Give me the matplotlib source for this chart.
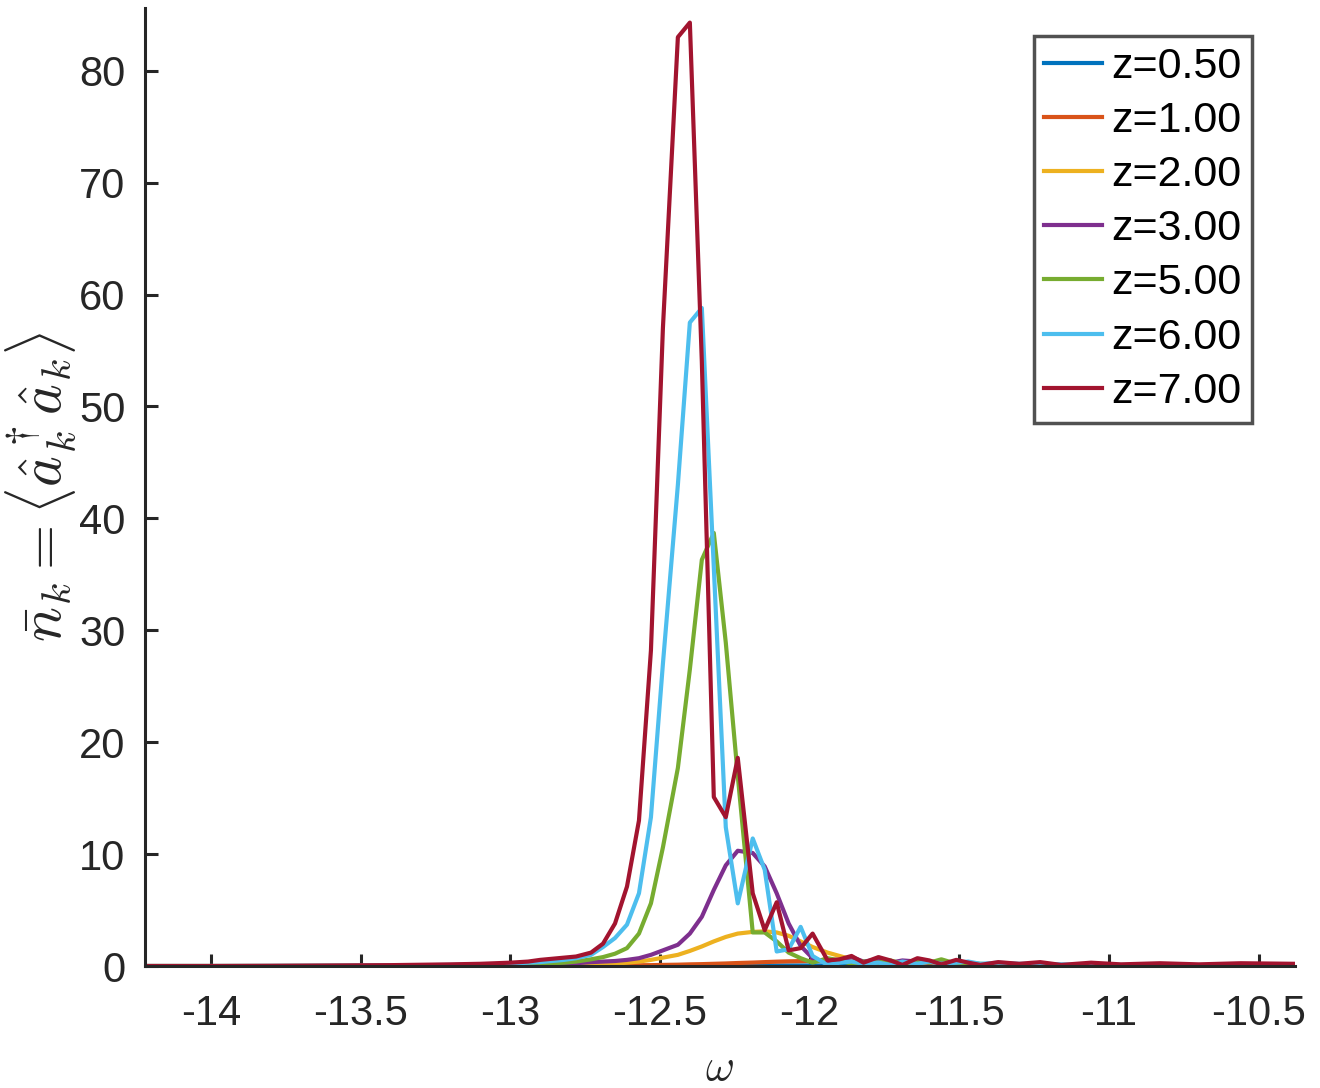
import matplotlib
matplotlib.use("Agg")
import matplotlib.pyplot as plt

# -------------------------------
# DATA
# -------------------------------

omega = [-14.22, -14.0, -13.8, -13.6, -13.4, -13.2, -13.1, -13.0, -12.94,
         -12.90, -12.86, -12.82, -12.78, -12.73, -12.69, -12.65, -12.61, -12.57,
         -12.53, -12.49, -12.44, -12.40, -12.36, -12.32, -12.28, -12.24, -12.19,
         -12.15, -12.11, -12.07, -12.03, -11.99, -11.94, -11.90, -11.86, -11.82,
         -11.77, -11.73, -11.69, -11.64, -11.60, -11.56, -11.51, -11.47, -11.43,
         -11.37, -11.30, -11.23, -11.16, -11.06, -10.96, -10.83, -10.70, -10.56,
         -10.38]

n_z050 = [0, 0, 0, 0, 0, 0, 0, 0, 0,
          0, 0, 0, 0, 0, 0, 0, 0.01, 0.01,
          0.01, 0.01, 0.02, 0.02, 0.02, 0.03, 0.03, 0.03, 0.04,
          0.04, 0.05, 0.05, 0.05, 0.05, 0.05, 0.05, 0.04, 0.04,
          0.04, 0.03, 0.03, 0.03, 0.02, 0.02, 0.02, 0.02, 0.01,
          0.01, 0.01, 0.01, 0.01, 0, 0, 0, 0, 0,
          0]

n_z100 = [0, 0, 0, 0, 0, 0, 0, 0, 0.01,
          0.01, 0.01, 0.02, 0.02, 0.03, 0.04, 0.05, 0.06, 0.07,
          0.08, 0.1, 0.12, 0.15, 0.17, 0.2, 0.23, 0.27, 0.31,
          0.35, 0.39, 0.42, 0.44, 0.45, 0.45, 0.43, 0.41, 0.38,
          0.35, 0.33, 0.3, 0.28, 0.25, 0.23, 0.2, 0.18, 0.15,
          0.13, 0.1, 0.08, 0.07, 0.05, 0.04, 0.03, 0.02, 0.02,
          0.01]

n_z200 = [0, 0, 0, 0, 0, 0.01, 0.02, 0.03, 0.04,
          0.05, 0.06, 0.08, 0.1, 0.13, 0.17, 0.22, 0.3, 0.4,
          0.55, 0.75, 1.0, 1.35, 1.75, 2.2, 2.6, 2.9, 3.05,
          3.1, 3.0, 2.7, 2.2, 1.7, 1.2, 0.9, 0.6, 0.35,
          0.25, 0.3, 0.15, 0.2, 0.3, 0.15, 0.2, 0.1, 0.1,
          0.08, 0.06, 0.05, 0.05, 0.04, 0.03, 0.03, 0.02, 0.02,
          0.02]

n_z300 = [0, 0, 0, 0, 0.01, 0.03, 0.05, 0.08, 0.1,
          0.12, 0.15, 0.2, 0.25, 0.35, 0.4, 0.45, 0.55, 0.7,
          1.0, 1.4, 1.9, 2.9, 4.4, 6.8, 9.0, 10.3, 10.1,
          8.9, 6.5, 3.8, 1.8, 0.7, 0.3, 0.5, 0.8, 0.4,
          0.6, 0.3, 0.5, 0.4, 0.3, 0.4, 0.2, 0.3, 0.15,
          0.1, 0.08, 0.06, 0.05, 0.05, 0.04, 0.03, 0.03, 0.02,
          0.02]

n_z500 = [0, 0, 0, 0.01, 0.02, 0.05, 0.08, 0.12, 0.15,
          0.2, 0.25, 0.3, 0.4, 0.6, 0.8, 1.1, 1.6, 2.9,
          5.6, 10.6, 17.7, 26.5, 36.3, 38.7, 28.9, 17.0, 3.0,
          3.0, 2.2, 1.2, 0.7, 0.3, 0.7, 0.5, 0.2, 0.4,
          0.3, 0.5, 0.2, 0.5, 0.3, 0.6, 0.2, 0.3, 0.2,
          0.1, 0.1, 0.08, 0.06, 0.05, 0.05, 0.04, 0.03, 0.03,
          0.02]

n_z600 = [0, 0, 0.01, 0.03, 0.05, 0.1, 0.15, 0.2, 0.3,
          0.35, 0.45, 0.55, 0.7, 1.0, 1.7, 2.5, 3.7, 6.5,
          13.3, 27.0, 43.0, 57.5, 58.8, 35.6, 12.4, 5.6, 11.4,
          8.6, 1.3, 1.5, 3.5, 0.9, 0.1, 0.3, 0.4, 0.2,
          0.3, 0.1, 0.4, 0.2, 0.4, 0.2, 0.3, 0.4, 0.2,
          0.3, 0.2, 0.2, 0.15, 0.1, 0.1, 0.1, 0.08, 0.08,
          0.05]

n_z700 = [0, 0, 0.02, 0.05, 0.08, 0.15, 0.2, 0.3, 0.4,
          0.55, 0.65, 0.75, 0.85, 1.2, 2.0, 3.8, 7.1, 13.0,
          28.2, 57.0, 83.0, 84.3, 54.0, 15.1, 13.3, 18.6, 6.5,
          3.2, 5.7, 1.4, 1.6, 2.9, 0.5, 0.6, 0.9, 0.3,
          0.8, 0.5, 0.1, 0.7, 0.5, 0.15, 0.55, 0.3, 0.1,
          0.35, 0.2, 0.35, 0.1, 0.3, 0.15, 0.25, 0.15, 0.25,
          0.2]

series = [n_z050, n_z100, n_z200, n_z300, n_z500, n_z600, n_z700]
labels = ["z=0.50", "z=1.00", "z=2.00", "z=3.00", "z=5.00", "z=6.00", "z=7.00"]
colors = ["#0072BD", "#D95319", "#EDB120", "#7E2F8E", "#77AC30", "#4DBEEE", "#A2142F"]

xticks = [-14, -13.5, -13, -12.5, -12, -11.5, -11, -10.5]
xticklabels = ["-14", "-13.5", "-13", "-12.5", "-12", "-11.5", "-11", "-10.5"]
yticks = [0, 10, 20, 30, 40, 50, 60, 70, 80]

# -------------------------------
# PLOT
# -------------------------------

plt.rcParams["font.family"] = ["Liberation Sans", "DejaVu Sans"]
plt.rcParams["mathtext.fontset"] = "cm"
plt.rcParams["axes.unicode_minus"] = False

fig = plt.figure(figsize=(13.2, 10.88), dpi=100)
ax = fig.add_axes([0.1098, 0.1121, 0.871, 0.8805])

for y, lab, c in zip(series, labels, colors):
    ax.plot(omega, y, color=c, linewidth=3, label=lab)

ax.set_xlim(-14.22, -10.38)
ax.set_ylim(0, 85.6)
ax.set_xticks(xticks)
ax.set_xticklabels(xticklabels)
ax.set_yticks(yticks)

dark = "#262626"
for side in ["top", "right"]:
    ax.spines[side].set_visible(False)
for side in ["left", "bottom"]:
    ax.spines[side].set_linewidth(2.2)
    ax.spines[side].set_color(dark)
ax.tick_params(direction="in", length=9, width=2.2, colors=dark,
               labelsize=30)
ax.tick_params(axis="x", pad=20)
ax.tick_params(axis="y", pad=14)

ax.set_xlabel(r"$\omega$", fontsize=32, color=dark, labelpad=10)
ax.set_ylabel(r"$\bar{n}_k = \langle \hat{a}_k^\dagger \hat{a}_k \rangle$",
              fontsize=42, color=dark, labelpad=0)

leg = ax.legend(loc="upper right", bbox_to_anchor=(0.963, 0.971), fontsize=31,
                frameon=True, fancybox=False, handlelength=1.35,
                handletextpad=0.2, labelspacing=0.33, borderpad=0.25,
                borderaxespad=0)
leg.get_frame().set_edgecolor(dark)
leg.get_frame().set_linewidth(2.5)

plt.savefig("out.png", dpi=100)
